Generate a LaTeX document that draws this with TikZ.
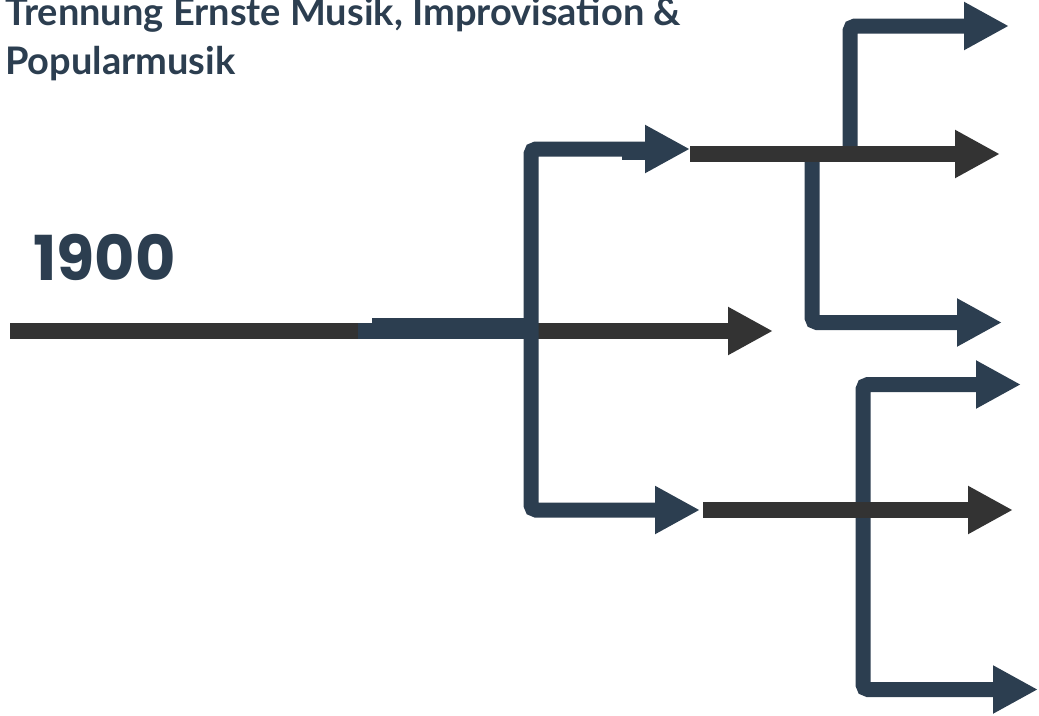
\documentclass[tikz,border=0pt]{standalone}
\usepackage{fontspec}
\setmainfont{Poppins}
\newfontfamily\titlefont{Lato}
\usetikzlibrary{arrows.meta}
\definecolor{navy}{HTML}{2C3E50}
\definecolor{darkline}{HTML}{333333}
\tikzset{
  tip/.tip={Triangle[length=45pt,width=45pt]},
  darkarrow/.style={draw=darkline, line width=16pt, -tip},
  navyarrow/.style={draw=navy, line width=15pt, rounded corners=5pt},
  title/.style={anchor=base west, inner sep=0pt, text=navy, font=\titlefont\bfseries\fontsize{38}{38}\selectfont},
}
\begin{document}
\begin{tikzpicture}[x=1pt,y=-1pt]
\useasboundingbox (0,0) rectangle (1039,715);
% coordinates
\coordinate (start) at (10,331);
\coordinate (mainTip) at (773,331);
\coordinate (J1) at (531,331);
\coordinate (upTipA) at (690,149);
\coordinate (loTipA) at (700,510);
\coordinate (upStart) at (690,154);
\coordinate (upTip) at (1000,154);
\coordinate (loStart) at (703,510);
\coordinate (loTip) at (1013,510);
\coordinate (topTip) at (1009,26);
\coordinate (midTip) at (1002,322.5);
\coordinate (b1Tip) at (1021,384.5);
\coordinate (b2Tip) at (1038,689.5);
% text
\node[title] (t1) at (5,25) {Trennung Ernste Musik, Improvisation \&};
\node[title] (t2) at (5,74) {Popularmusik};
\node[anchor=base west, inner sep=0pt, text=navy, font=\bfseries\fontsize{62}{62}\selectfont] (year) at (33,280) {1900};
% main dark line
\draw[darkarrow] (start) -- (mainTip);
% navy overlay
\fill[navy] (358,323) rectangle (531,339);
\fill[navy] (372,318) rectangle (531,339);
% upper & lower navy branches from J1
\draw[navyarrow, tip-tip] (upTipA) -- (531,149) -- (531,510) -- (loTipA);
\fill[navy] (622,142) rectangle (645,160);
% upper branch navy sub-branches (under dark line)
\draw[navyarrow, -tip] (850,154) -- (850,26) -- (topTip);
\draw[navyarrow, -tip] (812,154) -- (812,322.5) -- (midTip);
\draw[darkarrow] (upStart) -- (upTip);
% lower branch navy sub-branches
\draw[navyarrow, tip-tip] (b1Tip) -- (863,384.5) -- (863,689.5) -- (b2Tip);
\draw[darkarrow] (loStart) -- (loTip);
\end{tikzpicture}
\end{document}
